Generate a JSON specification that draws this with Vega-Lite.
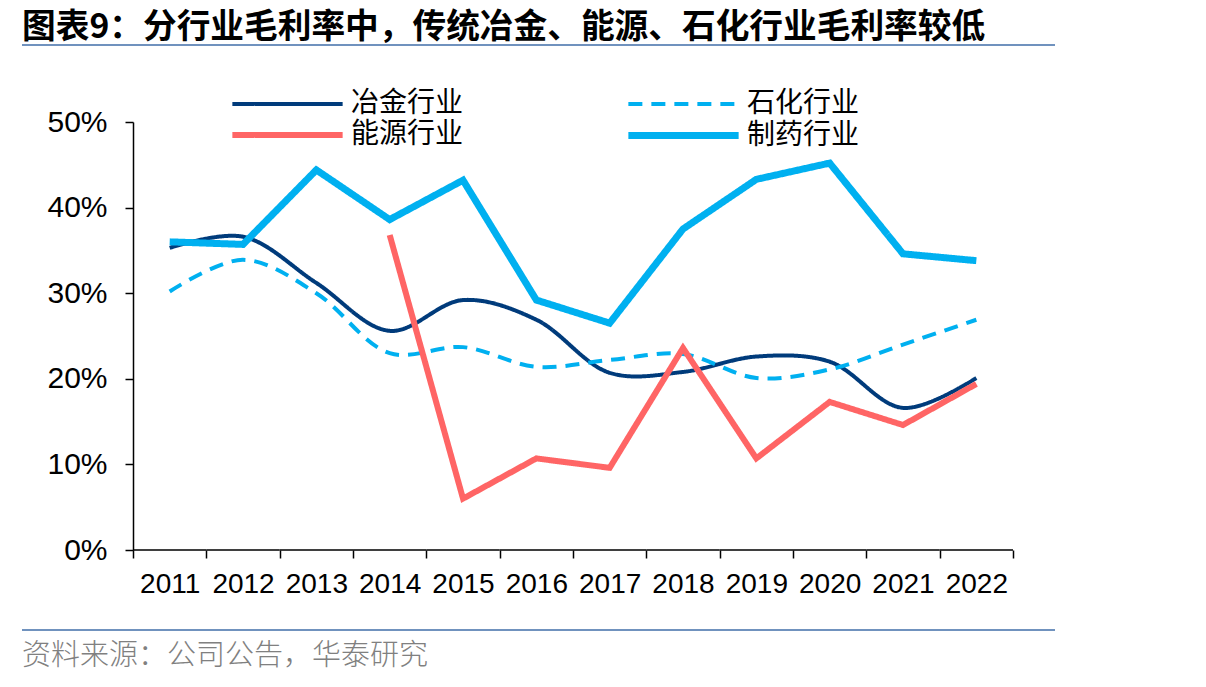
{
  "$schema": "https://vega.github.io/schema/vega-lite/v6.json",
  "padding": {"left": 22, "top": 11, "right": 10, "bottom": 8},
  "background": "white",
  "config": {"view": {"stroke": null}, "font": "Liberation Sans"},
  "spacing": 57,
  "vconcat": [
    {
      "width": 1033,
      "height": 2,
      "view": {"fill": "#7092BE", "stroke": null},
      "title": {"text": "图表9：分行业毛利率中，传统冶金、能源、石化行业毛利率较低", "anchor": "start", "font": "Noto Sans CJK SC", "fontSize": 33.7, "fontWeight": "bold", "color": "#000000", "offset": -6},
      "data": {"values": [{}]},
      "mark": {"type": "text", "text": ""},
      "encoding": {}
    },
    {
      "spacing": 26,
      "vconcat": [
        {
          "width": 991,
          "height": 428,
          "data": {"values": [
            {"year": "2011", "series": "冶金行业", "value": 0.353},
            {"year": "2012", "series": "冶金行业", "value": 0.366},
            {"year": "2013", "series": "冶金行业", "value": 0.312},
            {"year": "2014", "series": "冶金行业", "value": 0.256},
            {"year": "2015", "series": "冶金行业", "value": 0.292},
            {"year": "2016", "series": "冶金行业", "value": 0.269},
            {"year": "2017", "series": "冶金行业", "value": 0.207},
            {"year": "2018", "series": "冶金行业", "value": 0.208},
            {"year": "2019", "series": "冶金行业", "value": 0.226},
            {"year": "2020", "series": "冶金行业", "value": 0.220},
            {"year": "2021", "series": "冶金行业", "value": 0.166},
            {"year": "2022", "series": "冶金行业", "value": 0.201},
            {"year": "2011", "series": "石化行业", "value": 0.302},
            {"year": "2012", "series": "石化行业", "value": 0.339},
            {"year": "2013", "series": "石化行业", "value": 0.300},
            {"year": "2014", "series": "石化行业", "value": 0.230},
            {"year": "2015", "series": "石化行业", "value": 0.237},
            {"year": "2016", "series": "石化行业", "value": 0.214},
            {"year": "2017", "series": "石化行业", "value": 0.222},
            {"year": "2018", "series": "石化行业", "value": 0.229},
            {"year": "2019", "series": "石化行业", "value": 0.201},
            {"year": "2020", "series": "石化行业", "value": 0.211},
            {"year": "2021", "series": "石化行业", "value": 0.240},
            {"year": "2022", "series": "石化行业", "value": 0.269},
            {"year": "2014", "series": "能源行业", "value": 0.368},
            {"year": "2015", "series": "能源行业", "value": 0.060},
            {"year": "2016", "series": "能源行业", "value": 0.107},
            {"year": "2017", "series": "能源行业", "value": 0.096},
            {"year": "2018", "series": "能源行业", "value": 0.236},
            {"year": "2019", "series": "能源行业", "value": 0.107},
            {"year": "2020", "series": "能源行业", "value": 0.173},
            {"year": "2021", "series": "能源行业", "value": 0.146},
            {"year": "2022", "series": "能源行业", "value": 0.194},
            {"year": "2011", "series": "制药行业", "value": 0.360},
            {"year": "2012", "series": "制药行业", "value": 0.357},
            {"year": "2013", "series": "制药行业", "value": 0.444},
            {"year": "2014", "series": "制药行业", "value": 0.386},
            {"year": "2015", "series": "制药行业", "value": 0.432},
            {"year": "2016", "series": "制药行业", "value": 0.292},
            {"year": "2017", "series": "制药行业", "value": 0.265},
            {"year": "2018", "series": "制药行业", "value": 0.375},
            {"year": "2019", "series": "制药行业", "value": 0.433},
            {"year": "2020", "series": "制药行业", "value": 0.452},
            {"year": "2021", "series": "制药行业", "value": 0.346},
            {"year": "2022", "series": "制药行业", "value": 0.338}
          ]},
          "encoding": {
            "x": {
              "field": "year", "type": "ordinal", "bandPosition": 0.5,
              "scale": {"type": "band", "paddingInner": 0, "paddingOuter": 0.757, "align": 1},
              "axis": {"title": null, "domain": false, "tickBand": "extent", "labelAngle": 0, "labelFontSize": 28, "labelFont": "Liberation Sans", "labelPadding": 12, "tickSize": 8, "tickColor": "#000000", "labelColor": "#000000", "tickWidth": 1.5}
            },
            "y": {
              "field": "value", "type": "quantitative",
              "scale": {"domain": [0, 0.5], "nice": false},
              "axis": {"values": [0, 0.1, 0.2, 0.3, 0.4, 0.5], "format": ".0%", "grid": false, "offset": -111, "tickSize": 8, "labelFontSize": 30, "labelPadding": 18, "labelColor": "#000000", "domainColor": "#000000", "tickColor": "#000000", "domainWidth": 1.5, "tickWidth": 1.5, "title": null}
            }
          },
          "layer": [
            {
              "transform": [{"filter": "datum.series == '制药行业'"}],
              "mark": {"type": "bar", "stroke": "#000000", "strokeWidth": 1.5, "fillOpacity": 0},
              "encoding": {
                "y": {"datum": 0, "type": "quantitative"},
                "y2": {"datum": 0}
              }
            },
            {
              "transform": [{"filter": "datum.series == '冶金行业' || datum.series == '石化行业'"}],
              "mark": {"type": "line", "interpolate": "catmull-rom"},
              "encoding": {
                "color": {
                  "field": "series", "type": "nominal",
                  "scale": {"domain": ["冶金行业", "能源行业", "石化行业", "制药行业"], "range": ["#003B7B", "#FF6565", "#00B0F0", "#00B0F0"]},
                  "legend": {"orient": "none", "legendX": 208, "legendY": 44, "columns": 2, "columnPadding": 150, "rowPadding": 0, "title": null, "symbolType": "M-4,0H4", "symbolSize": 760, "symbolOffset": 40, "labelFontSize": 28, "labelFont": "Noto Sans CJK SC", "labelOffset": 46, "labelColor": "#000000", "padding": 0}
                },
                "strokeDash": {
                  "field": "series", "type": "nominal",
                  "scale": {"domain": ["冶金行业", "能源行业", "石化行业", "制药行业"], "range": [[1, 0], [1, 0], [14, 9], [1, 0]]}
                },
                "strokeWidth": {
                  "field": "series", "type": "nominal",
                  "scale": {"type": "ordinal", "domain": ["冶金行业", "能源行业", "石化行业", "制药行业"], "range": [4, 6, 4, 7]}
                }
              }
            },
            {
              "transform": [{"filter": "datum.series == '能源行业' || datum.series == '制药行业'"}],
              "mark": {"type": "line"},
              "encoding": {
                "color": {
                  "field": "series", "type": "nominal",
                  "scale": {"domain": ["冶金行业", "能源行业", "石化行业", "制药行业"], "range": ["#003B7B", "#FF6565", "#00B0F0", "#00B0F0"]}
                },
                "strokeDash": {
                  "field": "series", "type": "nominal",
                  "scale": {"domain": ["冶金行业", "能源行业", "石化行业", "制药行业"], "range": [[1, 0], [1, 0], [14, 9], [1, 0]]}
                },
                "strokeWidth": {
                  "field": "series", "type": "nominal",
                  "scale": {"type": "ordinal", "domain": ["冶金行业", "能源行业", "石化行业", "制药行业"], "range": [4, 6, 4, 7]}
                }
              }
            }
          ]
        },
        {
          "width": 1033,
          "height": 2,
          "view": {"fill": "#7092BE", "stroke": null},
          "title": {"text": "资料来源：公司公告，华泰研究", "orient": "bottom", "anchor": "start", "font": "Noto Sans CJK SC", "fontSize": 29, "fontWeight": 300, "color": "#808080", "offset": 7},
          "data": {"values": [{}]},
          "mark": {"type": "text", "text": ""},
          "encoding": {}
        }
      ]
    }
  ]
}
